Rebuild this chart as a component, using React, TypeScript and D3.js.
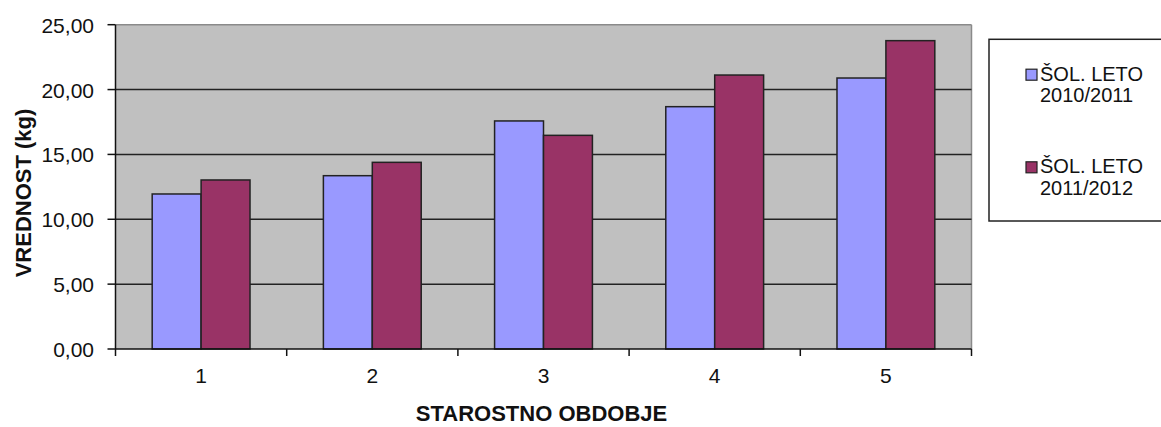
import React from "react";
import * as d3 from "d3";

const categories = ["1", "2", "3", "4", "5"];
const series2010 = [11.95, 13.36, 17.58, 18.68, 20.89];
const series2011 = [13.03, 14.39, 16.47, 21.12, 23.77];
const yTicks = [0, 5, 10, 15, 20, 25];
const seriesNames = [["ŠOL. LETO", "2010/2011"], ["ŠOL. LETO", "2011/2012"]];
const seriesColors = ["#9999FF", "#993366"];

const W = 1161;
const H = 427;
const left = 115.5;
const right = 971.5;
const top = 24.7;
const bottom = 349;
const FONT = "'Liberation Sans', Arial, sans-serif";

export default function App() {
  const x = d3.scaleBand<string>().domain(categories).range([left, right]).padding(0);
  const y = d3.scaleLinear().domain([0, 25]).range([bottom, top]);
  const step = x.step();
  const bw = step / 3.5;
  const fmt = (v: number) => v.toFixed(2).replace(".", ",");
  const all = [series2010, series2011];

  return (
    <svg width={W} height={H} style={{ position: "absolute", left: 0, top: 0, background: "#fff" }}>
      <rect x={left} y={top} width={right - left} height={bottom - top} fill="#C0C0C0" />
      {/* top & right borders */}
      <line x1={left} x2={right} y1={top} y2={top} stroke="#8a8a8a" strokeWidth={1.5} />
      <line x1={right} x2={right} y1={top} y2={bottom} stroke="#8a8a8a" strokeWidth={1.5} />
      {/* gridlines */}
      {yTicks.filter((t) => t > 0 && t < 25).map((t) => (
        <line key={t} x1={left} x2={right} y1={y(t)} y2={y(t)} stroke="#222" strokeWidth={1.5} />
      ))}
      {/* bars */}
      {categories.map((c, i) => (
        <g key={c}>
          {all.map((s, j) => (
            <rect
              key={j}
              x={(x(c) as number) + 0.75 * bw + j * bw}
              y={y(s[i])}
              width={bw}
              height={bottom - y(s[i])}
              fill={seriesColors[j]}
              stroke="#222"
              strokeWidth={1.5}
            />
          ))}
        </g>
      ))}
      {/* axes */}
      <line x1={left} x2={left} y1={top} y2={bottom + 7} stroke="#111" strokeWidth={1.5} />
      <line x1={left} x2={right} y1={bottom} y2={bottom} stroke="#111" strokeWidth={1.5} />
      {yTicks.map((t) => (
        <g key={t}>
          <line x1={left - 8} x2={left} y1={y(t)} y2={y(t)} stroke="#111" strokeWidth={1.5} />
          <text x={94} y={y(t) + 8} textAnchor="end" fontFamily={FONT} fontSize={21} fill="#111">
            {fmt(t)}
          </text>
        </g>
      ))}
      {categories.map((c) => (
        <g key={c}>
          <line x1={(x(c) as number) + step} x2={(x(c) as number) + step} y1={bottom} y2={bottom + 7} stroke="#111" strokeWidth={1.5} />
          <text x={(x(c) as number) + step / 2} y={383} textAnchor="middle" fontFamily={FONT} fontSize={21} fill="#111">
            {c}
          </text>
        </g>
      ))}
      <text x={541.5} y={421} textAnchor="middle" fontFamily={FONT} fontSize={22} fontWeight="bold" fill="#111">
        STAROSTNO OBDOBJE
      </text>
      <text
        transform={`translate(31,193) rotate(-90)`}
        textAnchor="middle"
        fontFamily={FONT}
        fontSize={22}
        fontWeight="bold"
        fill="#111"
      >
        VREDNOST (kg)
      </text>
      {/* legend */}
      <rect x={989} y={39.3} width={200} height={181.7} fill="#fff" stroke="#222" strokeWidth={1.5} />
      {seriesNames.map((nm, j) => {
        const base = j === 0 ? 80.7 : 173.3;
        return (
          <g key={j}>
            <rect x={1026} y={base - 11.5} width={11} height={11} fill={seriesColors[j]} stroke="#222" strokeWidth={1.2} />
            <text x={1040} y={base} fontFamily={FONT} fontSize={20} fill="#111">{nm[0]}</text>
            <text x={1040} y={base + 21.5} fontFamily={FONT} fontSize={20} fill="#111">{nm[1]}</text>
          </g>
        );
      })}
    </svg>
  );
}
